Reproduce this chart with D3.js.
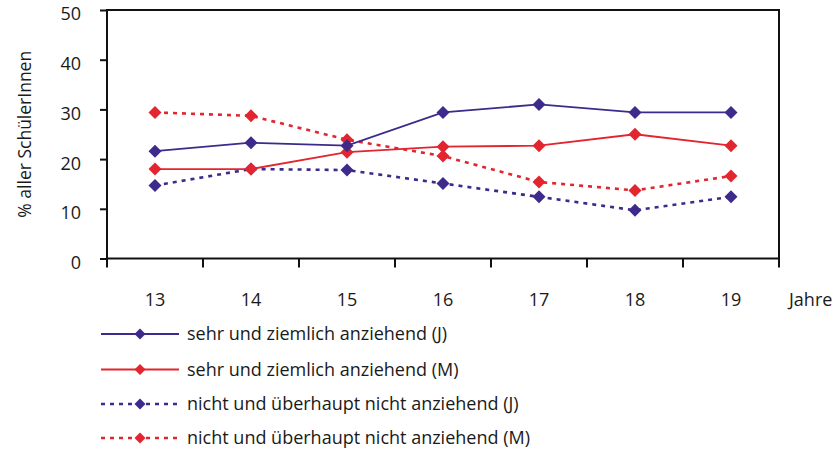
<!DOCTYPE html>
<html>
<head>
<meta charset="utf-8">
<script src="https://cdn.jsdelivr.net/npm/d3@7"></script>
<style>
  body { margin: 0; background: #fff; }
  svg text { font-family: "Open Sans", sans-serif; fill: #1a1a1a; }
</style>
</head>
<body>
<div id="chart"></div>
<script>
// Alter der SchülerInnen
const years = ["13", "14", "15", "16", "17", "18", "19"];

// Werte in %
const sehrJ = [21.6, 23.3, 22.7, 29.4, 31.0, 29.4, 29.4];
const sehrM = [18.0, 18.0, 21.4, 22.5, 22.7, 25.0, 22.7];
const nichtJ = [14.7, 18.0, 17.8, 15.1, 12.4, 9.7, 12.4];
const nichtM = [29.4, 28.7, 23.9, 20.6, 15.4, 13.7, 16.6];

const seriesNames = [
  "sehr und ziemlich anziehend (J)",
  "sehr und ziemlich anziehend (M)",
  "nicht und überhaupt nicht anziehend (J)",
  "nicht und überhaupt nicht anziehend (M)"
];

const yTicks = [0, 10, 20, 30, 40, 50];

const purple = "#3d2a8a", red = "#e2252f";

const series = [
  { name: seriesNames[0], values: sehrJ, color: purple, dash: null },
  { name: seriesNames[1], values: sehrM, color: red, dash: null },
  { name: seriesNames[2], values: nichtJ, color: purple, dash: "4,5" },
  { name: seriesNames[3], values: nichtM, color: red, dash: "4,5" }
];

const width = 834, height = 449;
const plot = { left: 107, right: 779, top: 10, bottom: 258.5 };

const svg = d3.select("#chart").append("svg")
  .attr("width", width)
  .attr("height", height);

const x = d3.scaleBand().domain(years).range([plot.left, plot.right]);
const y = d3.scaleLinear().domain([0, 50]).range([plot.bottom, plot.top]);

// Rahmen
svg.append("rect")
  .attr("x", plot.left).attr("y", plot.top)
  .attr("width", plot.right - plot.left)
  .attr("height", plot.bottom - plot.top)
  .attr("fill", "none")
  .attr("stroke", "#111")
  .attr("stroke-width", 2);

// y-Achse
const yAxis = svg.append("g")
  .attr("transform", `translate(${plot.left},0)`)
  .call(d3.axisLeft(y).tickValues(yTicks).tickSize(7).tickPadding(19));
yAxis.select(".domain").remove();
yAxis.selectAll(".tick line").attr("stroke", "#111").attr("stroke-width", 2);
yAxis.selectAll(".tick text")
  .attr("font-size", 18).attr("font-family", "Open Sans, sans-serif").attr("fill", "#1a1a1a")
  .attr("dy", "0.55em");

// x-Achse: Striche an den Bandgrenzen
const bounds = years.map(d => x(d)).concat([plot.right]);
svg.append("g").selectAll("line")
  .data(bounds)
  .join("line")
  .attr("x1", d => d).attr("x2", d => d)
  .attr("y1", plot.bottom).attr("y2", plot.bottom + 9)
  .attr("stroke", "#111")
  .attr("stroke-width", 2);

svg.append("g").selectAll("text")
  .data(years)
  .join("text")
  .attr("x", d => x(d) + x.bandwidth() / 2)
  .attr("y", 306)
  .attr("text-anchor", "middle")
  .attr("font-size", 18)
  .text(d => d);

svg.append("text")
  .attr("x", 789).attr("y", 306)
  .attr("font-size", 18)
  .text("Jahre");

svg.append("text")
  .attr("transform", `translate(31,${(plot.top + plot.bottom) / 2}) rotate(-90)`)
  .attr("text-anchor", "middle")
  .attr("font-size", 17.5)
  .text("% aller SchülerInnen");

// Linien
const line = d3.line()
  .x((d, i) => x(years[i]) + x.bandwidth() / 2)
  .y(d => y(d));

const diamond = (cx, cy, r) =>
  `M${cx},${cy - r}L${cx + r},${cy}L${cx},${cy + r}L${cx - r},${cy}Z`;

// gestrichelte Linien zuerst, damit die durchgezogenen oben liegen
const order = [series[3], series[2], series[1], series[0]];

order.forEach(s => {
  svg.append("path")
    .datum(s.values)
    .attr("fill", "none")
    .attr("stroke", s.color)
    .attr("stroke-width", s.dash ? 2.6 : 1.8)
    .attr("stroke-dasharray", s.dash)
    .attr("d", line);

  svg.append("g").selectAll("path")
    .data(s.values)
    .join("path")
    .attr("fill", s.color)
    .attr("d", (d, i) => diamond(x(years[i]) + x.bandwidth() / 2, y(d), 6.5));
});

// Legende
const legend = svg.append("g");
const rowY = [334, 369.5, 404, 438];
series.forEach((s, i) => {
  const g = legend.append("g").attr("transform", `translate(0,${rowY[i]})`);
  g.append("line")
    .attr("x1", 101).attr("x2", 179)
    .attr("y1", 0).attr("y2", 0)
    .attr("stroke", s.color)
    .attr("stroke-width", s.dash ? 2.6 : 1.8)
    .attr("stroke-dasharray", s.dash);
  g.append("path")
    .attr("fill", s.color)
    .attr("d", diamond(140, 0, 5.5));
  g.append("text")
    .attr("x", 187).attr("y", 0)
    .attr("dy", "0.35em")
    .attr("font-size", 18)
    .text(s.name);
});
</script>
</body>
</html>
